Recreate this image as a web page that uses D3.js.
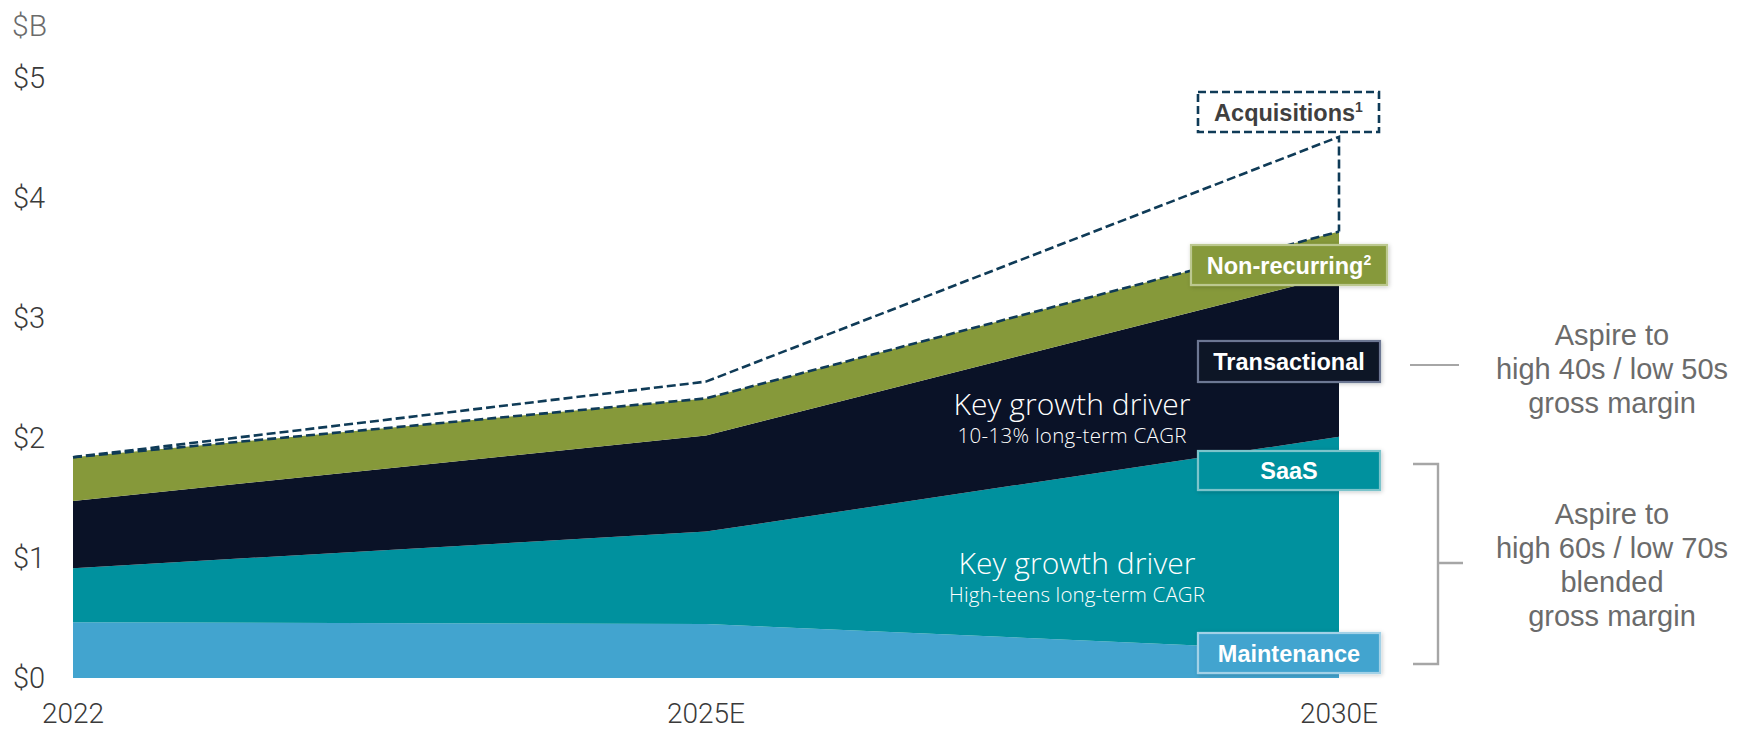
<!DOCTYPE html>
<html>
<head>
<meta charset="utf-8">
<script src="https://cdn.jsdelivr.net/npm/d3@7/dist/d3.min.js"></script>
<style>
  html, body { margin: 0; padding: 0; background: #ffffff; }
  svg { display: block; }
</style>
</head>
<body>
<svg id="chart" width="1750" height="729"></svg>
<script>
// Revenue build by stream, $B
const years = ["2022", "2025E", "2030E"];
const maintenance = [0.465, 0.45, 0.22];
const saas = [0.45, 0.77, 1.79];
const transactional = [0.56, 0.80, 1.35];
const nonRecurring = [0.365, 0.31, 0.36];
const acquisitions = [0, 0.14, 0.79];
const yTicks = [0, 1, 2, 3, 4, 5];
const yTickLabels = ["$0", "$1", "$2", "$3", "$4", "$5"];
const unitLabel = "$B";

const seriesKeys = ["maintenance", "saas", "transactional", "nonRecurring"];
const seriesColors = {
  maintenance: "#42a4cf",
  saas: "#00919e",
  transactional: "#0a1227",
  nonRecurring: "#86993a"
};
const dashColor = "#0f3b57";

const rows = years.map((y, i) => ({
  year: y,
  maintenance: maintenance[i],
  saas: saas[i],
  transactional: transactional[i],
  nonRecurring: nonRecurring[i],
  acquisitions: acquisitions[i]
}));

const svg = d3.select("#chart");

const x = d3.scalePoint().domain(years).range([73, 1339]);
const y = d3.scaleLinear().domain([0, 5]).range([678, 78]);

const defs = svg.append("defs");
const shadow = defs.append("filter").attr("id", "boxShadow")
  .attr("x", "-10%").attr("y", "-30%").attr("width", "120%").attr("height", "160%");
shadow.append("feDropShadow").attr("dx", 1).attr("dy", 1)
  .attr("stdDeviation", 2).attr("flood-color", "#000").attr("flood-opacity", 0.22);

// stacked areas
const stacked = d3.stack().keys(seriesKeys)(rows);
const area = d3.area()
  .x(d => x(d.data.year))
  .y0(d => y(d[0]))
  .y1(d => y(d[1]))
  .curve(d3.curveLinear);

svg.append("g").selectAll("path")
  .data(stacked)
  .join("path")
  .attr("d", area)
  .attr("fill", d => seriesColors[d.key]);

// dashed outline: organic total and total with acquisitions
const totals = rows.map(r => r.maintenance + r.saas + r.transactional + r.nonRecurring);
const lineGen = d3.line().x(d => x(d.year)).y(d => y(d.v));

const totalPts = rows.map((r, i) => ({ year: r.year, v: totals[i] }));
svg.append("path")
  .attr("d", lineGen(totalPts))
  .attr("fill", "none")
  .attr("stroke", dashColor)
  .attr("stroke-width", 2.6)
  .attr("stroke-dasharray", "9 4");

const acqPts = rows.map((r, i) => ({ year: r.year, v: totals[i] + r.acquisitions }));
acqPts.push({ year: years[years.length - 1], v: totals[totals.length - 1] });
svg.append("path")
  .attr("d", lineGen(acqPts))
  .attr("fill", "none")
  .attr("stroke", dashColor)
  .attr("stroke-width", 2.6)
  .attr("stroke-dasharray", "9 4");

// y axis labels
const axisFont = "Roboto, 'Liberation Sans', Arial, sans-serif";
const captionFont = "'Open Sans', Roboto, 'Liberation Sans', Arial, sans-serif";
svg.append("text")
  .attr("x", 12).attr("y", 36)
  .attr("font-family", axisFont).attr("font-weight", 300)
  .attr("font-size", 30).attr("fill", "#6b6b6b")
  .text(unitLabel);

svg.append("g").selectAll("text")
  .data(yTicks)
  .join("text")
  .attr("x", 13)
  .attr("y", d => y(d))
  .attr("dy", "0.36em")
  .attr("font-family", axisFont).attr("font-weight", 300)
  .attr("font-size", 29).attr("fill", "#3a3a3a")
  .text((d, i) => yTickLabels[i]);

// x axis labels
svg.append("g").selectAll("text")
  .data(years)
  .join("text")
  .attr("x", d => x(d))
  .attr("y", 723)
  .attr("text-anchor", "middle")
  .attr("font-family", axisFont).attr("font-weight", 300)
  .attr("font-size", 28).attr("fill", "#3a3a3a")
  .text(d => d);

// growth-driver captions inside the areas
const captions = [
  { title: "Key growth driver", sub: "10-13% long-term CAGR", cx: 1072, by: 415, tw: 237, sw: 229 },
  { title: "Key growth driver", sub: "High-teens long-term CAGR", cx: 1077, by: 574, tw: 237, sw: 256 }
];
captions.forEach(c => {
  svg.append("text")
    .attr("x", c.cx).attr("y", c.by)
    .attr("text-anchor", "middle")
    .attr("font-family", captionFont).attr("font-weight", 300)
    .attr("font-size", 30).attr("fill", "#ffffff")
    .attr("textLength", c.tw).attr("lengthAdjust", "spacing")
    .text(c.title);
  svg.append("text")
    .attr("x", c.cx).attr("y", c.by + 28)
    .attr("text-anchor", "middle")
    .attr("font-family", captionFont).attr("font-weight", 300)
    .attr("font-size", 20.5).attr("fill", "#ffffff")
    .attr("textLength", c.sw).attr("lengthAdjust", "spacing")
    .text(c.sub);
});

// series tags at the right edge
const xEnd = x(years[years.length - 1]);
const tagFont = "'Liberation Sans', Arial, sans-serif";
const tags = [
  { text: "Acquisitions", sup: "1", x0: xEnd - 141, x1: xEnd + 40, y0: 92, y1: 132,
    fill: "#ffffff", stroke: dashColor, dash: "8 4", color: "#3f3f3f", shadow: false },
  { text: "Non-recurring", sup: "2", x0: xEnd - 148, x1: xEnd + 48, y0: 245, y1: 285,
    fill: seriesColors.nonRecurring, stroke: "#bcc890", color: "#ffffff", shadow: true },
  { text: "Transactional", x0: xEnd - 141, x1: xEnd + 41, y0: 341, y1: 382,
    fill: seriesColors.transactional, stroke: "#6c7793", color: "#ffffff", shadow: true },
  { text: "SaaS", x0: xEnd - 141, x1: xEnd + 41, y0: 451, y1: 490,
    fill: seriesColors.saas, stroke: "#7cc4cb", color: "#ffffff", shadow: true },
  { text: "Maintenance", x0: xEnd - 141, x1: xEnd + 41, y0: 633, y1: 673,
    fill: seriesColors.maintenance, stroke: "#a2d1e7", color: "#ffffff", shadow: true }
];
tags.forEach(t => {
  const g = svg.append("g");
  const r = g.append("rect")
    .attr("x", t.x0).attr("y", t.y0)
    .attr("width", t.x1 - t.x0).attr("height", t.y1 - t.y0)
    .attr("fill", t.fill)
    .attr("stroke", t.stroke)
    .attr("stroke-width", t.dash ? 2.6 : 2.2);
  if (t.dash) r.attr("stroke-dasharray", t.dash);
  if (t.shadow) r.attr("filter", "url(#boxShadow)");
  const txt = g.append("text")
    .attr("x", (t.x0 + t.x1) / 2)
    .attr("y", (t.y0 + t.y1) / 2 + 8.5)
    .attr("text-anchor", "middle")
    .attr("font-family", tagFont).attr("font-weight", 700)
    .attr("font-size", 23.5).attr("fill", t.color);
  txt.append("tspan").text(t.text);
  if (t.sup) {
    txt.append("tspan").attr("dy", -9).attr("font-size", 14).text(t.sup);
  }
});

// gross margin notes
const noteFont = "'Liberation Sans', Arial, sans-serif";
const noteColor = "#6b6b6b";
const bracketColor = "#a6a6a6";
const notes = [
  { lines: ["Aspire to", "high 40s / low 50s", "gross margin"], cx: 1612, firstBase: 345 },
  { lines: ["Aspire to", "high 60s / low 70s", "blended", "gross margin"], cx: 1612, firstBase: 524 }
];
notes.forEach(n => {
  svg.append("g").selectAll("text")
    .data(n.lines)
    .join("text")
    .attr("x", n.cx)
    .attr("y", (d, i) => n.firstBase + i * 34)
    .attr("text-anchor", "middle")
    .attr("font-family", noteFont)
    .attr("font-size", 29).attr("fill", noteColor)
    .text(d => d);
});

// connector for transactional note
svg.append("line")
  .attr("x1", 1410).attr("x2", 1459).attr("y1", 365).attr("y2", 365)
  .attr("stroke", bracketColor).attr("stroke-width", 2.2);

// bracket grouping SaaS + maintenance
svg.append("path")
  .attr("d", "M1413,464 H1438 V664 H1413 M1438,563 H1463")
  .attr("fill", "none")
  .attr("stroke", bracketColor).attr("stroke-width", 2.4);
</script>
</body>
</html>
